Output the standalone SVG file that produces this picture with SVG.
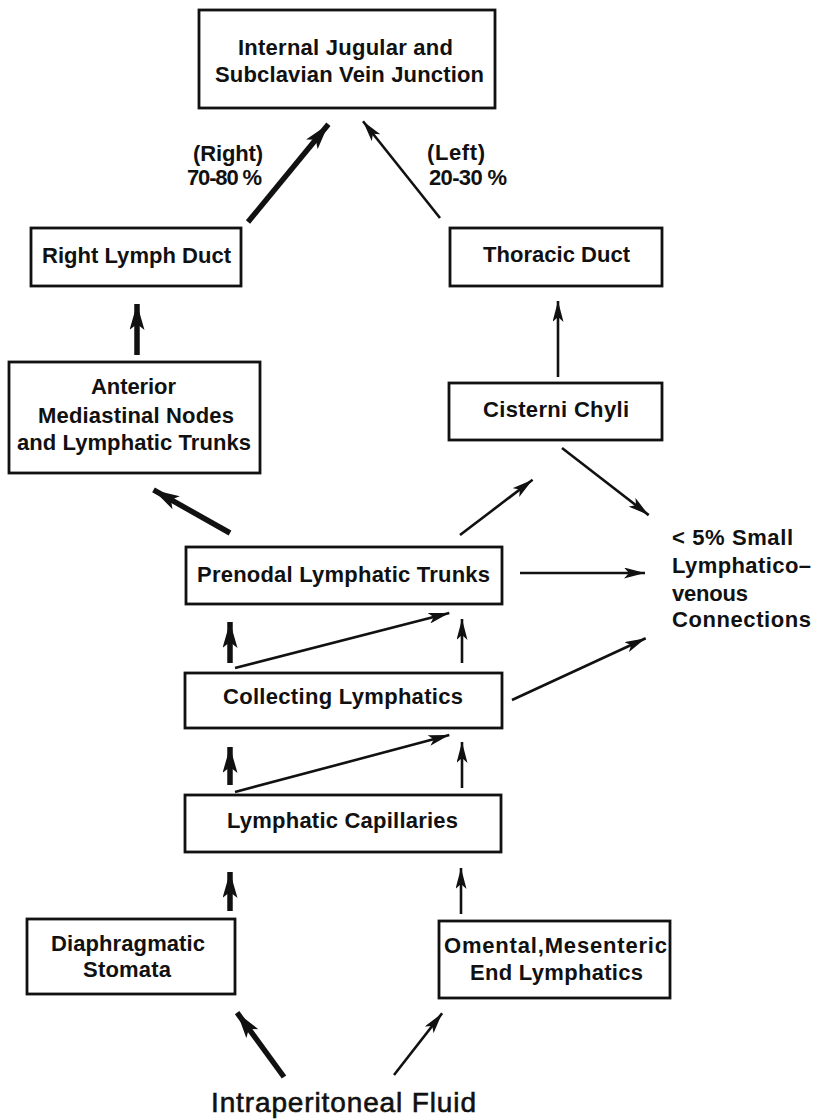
<svg xmlns="http://www.w3.org/2000/svg" width="813" height="1120" viewBox="0 0 813 1120">
<defs>
<style>
.box{fill:#fff;stroke:#111;stroke-width:2.8}
.t{font-family:"Liberation Sans",Arial,sans-serif;font-weight:bold;font-size:22px;fill:#111}
.big{font-family:"Liberation Sans",Arial,sans-serif;font-weight:normal;font-size:28px;fill:#111;stroke:#111;stroke-width:0.6}
.thin{stroke:#111;stroke-width:2.6;fill:none;marker-end:url(#ah)}
.thick{stroke:#111;stroke-width:5.5;fill:none;marker-end:url(#ahb)}
</style>
<marker id="ah" markerUnits="userSpaceOnUse" markerWidth="21" markerHeight="11" viewBox="0 0 21 11" refX="21" refY="5.5" orient="auto">
<path d="M0,0 L21,5.5 L0,11 L5,5.5 Z" fill="#111"/>
</marker>
<marker id="ahb" markerUnits="userSpaceOnUse" markerWidth="26" markerHeight="15" viewBox="0 0 26 15" refX="26" refY="7.5" orient="auto">
<path d="M0,0 L26,7.5 L0,15 L6,7.5 Z" fill="#111"/>
</marker>
</defs>
<rect width="813" height="1120" fill="#fff"/>

<g id="connectors">
<line class="thick" x1="248" y1="222" x2="328.4" y2="124.3"/>
<line class="thin" x1="440" y1="218" x2="363" y2="121.3"/>
<line class="thick" x1="137" y1="355" x2="137" y2="304"/>
<line class="thin" x1="558" y1="377" x2="558" y2="301"/>
<line class="thick" x1="230" y1="533" x2="153.5" y2="489.9"/>
<line class="thin" x1="460" y1="535" x2="532.6" y2="479.8"/>
<line class="thin" x1="562" y1="448" x2="648.7" y2="515.1"/>
<line class="thin" x1="520" y1="573" x2="645" y2="573"/>
<line class="thin" x1="512" y1="700" x2="645.7" y2="638.3"/>
<line class="thick" x1="230" y1="663" x2="230" y2="622"/>
<line class="thin" x1="235" y1="668" x2="449.3" y2="613"/>
<line class="thin" x1="462" y1="663" x2="462" y2="619"/>
<line class="thick" x1="230" y1="785" x2="230" y2="747"/>
<line class="thin" x1="235" y1="792" x2="449.3" y2="735.1"/>
<line class="thin" x1="462" y1="788" x2="462" y2="742"/>
<line class="thick" x1="230" y1="911" x2="230" y2="872"/>
<line class="thin" x1="461" y1="914" x2="461" y2="868"/>
<line class="thick" x1="284" y1="1077" x2="237.1" y2="1012.7"/>
<line class="thin" x1="394" y1="1075" x2="442.1" y2="1013.3"/>
</g>

<g id="labels">
<text class="t" x="193" y="161" textLength="70" lengthAdjust="spacing">(Right)</text>
<text class="t" x="187" y="185" textLength="75" lengthAdjust="spacing">70-80 %</text>
<text class="t" x="427" y="160" textLength="58" lengthAdjust="spacing">(Left)</text>
<text class="t" x="429" y="185" textLength="78" lengthAdjust="spacing">20-30 %</text>
</g>

<g id="junction">
<rect class="box" x="199" y="10" width="296" height="98"/>
<text class="t" x="238" y="55" textLength="215" lengthAdjust="spacing">Internal Jugular and</text>
<text class="t" x="215" y="82" textLength="269" lengthAdjust="spacing">Subclavian Vein Junction</text>
</g>

<g id="right-lymph-duct">
<rect class="box" x="31" y="228" width="210" height="58"/>
<text class="t" x="42" y="263" textLength="189" lengthAdjust="spacing">Right Lymph Duct</text>
</g>

<g id="thoracic-duct">
<rect class="box" x="450" y="228" width="212" height="58"/>
<text class="t" x="483" y="262" textLength="147" lengthAdjust="spacing">Thoracic Duct</text>
</g>

<g id="anterior-mediastinal">
<rect class="box" x="9" y="362" width="251" height="111"/>
<text class="t" x="91" y="394" textLength="85" lengthAdjust="spacing">Anterior</text>
<text class="t" x="38" y="423" textLength="196" lengthAdjust="spacing">Mediastinal Nodes</text>
<text class="t" x="17" y="450" textLength="234" lengthAdjust="spacing">and Lymphatic Trunks</text>
</g>

<g id="cisterni-chyli">
<rect class="box" x="449" y="383" width="213" height="57"/>
<text class="t" x="483" y="417" textLength="146" lengthAdjust="spacing">Cisterni Chyli</text>
</g>

<g id="lymphaticovenous">
<text class="t" x="672" y="545" textLength="121" lengthAdjust="spacing">&lt; 5% Small</text>
<text class="t" x="672" y="573" textLength="139" lengthAdjust="spacing">Lymphatico–</text>
<text class="t" x="672" y="601" textLength="76" lengthAdjust="spacing">venous</text>
<text class="t" x="672" y="627" textLength="139" lengthAdjust="spacing">Connections</text>
</g>

<g id="prenodal">
<rect class="box" x="186" y="547" width="316" height="57"/>
<text class="t" x="197" y="582" textLength="293" lengthAdjust="spacing">Prenodal Lymphatic Trunks</text>
</g>

<g id="collecting">
<rect class="box" x="185" y="673" width="317" height="55"/>
<text class="t" x="223" y="704" textLength="240" lengthAdjust="spacing">Collecting Lymphatics</text>
</g>

<g id="capillaries">
<rect class="box" x="185" y="795" width="316" height="57"/>
<text class="t" x="227" y="828" textLength="231" lengthAdjust="spacing">Lymphatic Capillaries</text>
</g>

<g id="diaphragmatic">
<rect class="box" x="27" y="919" width="208" height="75"/>
<text class="t" x="51" y="951" textLength="154" lengthAdjust="spacing">Diaphragmatic</text>
<text class="t" x="83" y="977" textLength="88" lengthAdjust="spacing">Stomata</text>
</g>

<g id="omental">
<rect class="box" x="439" y="921" width="231" height="77"/>
<text class="t" x="444" y="953" textLength="223" lengthAdjust="spacing">Omental,Mesenteric</text>
<text class="t" x="470" y="980" textLength="173" lengthAdjust="spacing">End Lymphatics</text>
</g>

<g id="intraperitoneal">
<text class="big" x="211" y="1112" textLength="265" lengthAdjust="spacing">Intraperitoneal Fluid</text>
</g>
</svg>
